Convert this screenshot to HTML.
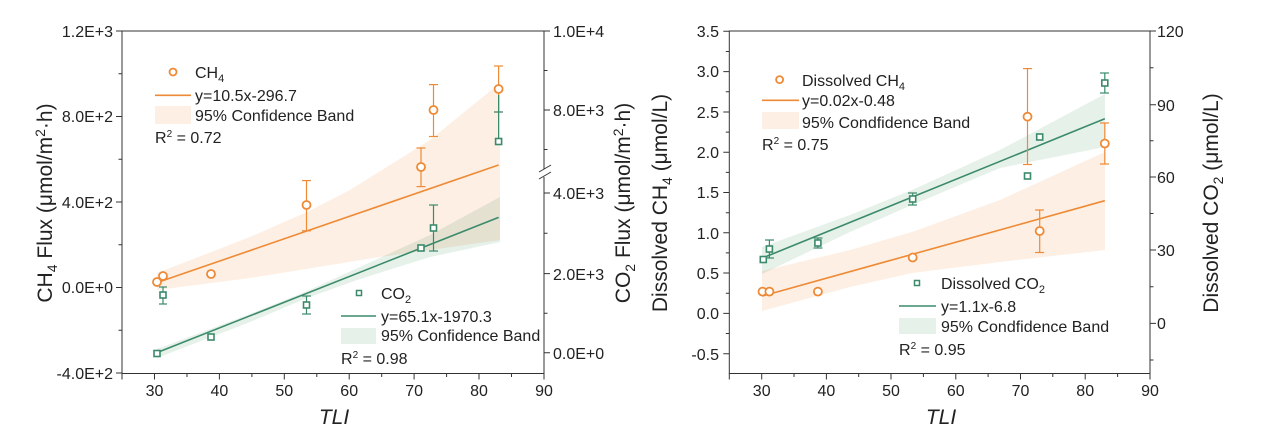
<!DOCTYPE html>
<html><head><meta charset="utf-8"><style>
html,body{margin:0;padding:0;background:#fff;width:1280px;height:441px;overflow:hidden}
svg{display:block}
text{font-family:"Liberation Sans",Arial,sans-serif;fill:#222}
.t{font-size:16px}
.ti{font-size:21px}
.ob{fill:#fdefe3}
.gb{fill:#e6f1ea;mix-blend-mode:multiply}
</style></head><body>
<svg width="1280" height="441" viewBox="0 0 1280 441" xmlns="http://www.w3.org/2000/svg">
<g>
<polygon class="ob" points="157,273 250,237 307,212 350,190 430,140 500,83 500,240 430,250 373,258 300,270 250,278 157,290"/>
<polygon class="gb" points="157,349 250,314 307,291 360,267 430,235 500,197 500,242 430,257 360,279 307,298 250,322 157,358"/>
<line x1="157" y1="282.6" x2="498.6" y2="165" stroke="#ee8a36" stroke-width="1.6"/>
<line x1="156" y1="353" x2="498.6" y2="217.4" stroke="#3b8a6b" stroke-width="1.6"/>
<g stroke="#ee8a36" stroke-width="1.2" fill="none">
<line x1="306.5" y1="180.6" x2="306.5" y2="230.8"/><line x1="302" y1="180.6" x2="311" y2="180.6"/><line x1="302" y1="230.8" x2="311" y2="230.8"/>
<line x1="421" y1="148" x2="421" y2="186.6"/><line x1="416.5" y1="148" x2="425.5" y2="148"/><line x1="416.5" y1="186.6" x2="425.5" y2="186.6"/>
<line x1="433.5" y1="84.6" x2="433.5" y2="136.5"/><line x1="429" y1="84.6" x2="438" y2="84.6"/><line x1="429" y1="136.5" x2="438" y2="136.5"/>
<line x1="498.6" y1="66" x2="498.6" y2="112"/><line x1="494" y1="66" x2="503" y2="66"/><line x1="494" y1="112" x2="503" y2="112"/>
</g>
<g stroke="#3b8a6b" stroke-width="1.2" fill="none">
<line x1="163" y1="287" x2="163" y2="304"/><line x1="159" y1="287" x2="167" y2="287"/><line x1="159" y1="304" x2="167" y2="304"/>
<line x1="306.5" y1="296" x2="306.5" y2="314"/><line x1="302" y1="296" x2="311" y2="296"/><line x1="302" y1="314" x2="311" y2="314"/>
<line x1="433.5" y1="205" x2="433.5" y2="251"/><line x1="429" y1="205" x2="438" y2="205"/><line x1="429" y1="251" x2="438" y2="251"/>
<line x1="498.6" y1="95" x2="498.6" y2="141"/><line x1="494" y1="112" x2="503" y2="112"/>
</g>
<g stroke="#ee8a36" stroke-width="1.8" fill="#fff">
<circle cx="157" cy="282" r="4"/><circle cx="163" cy="276" r="4"/><circle cx="211" cy="274" r="4"/>
<circle cx="306.5" cy="205" r="4"/><circle cx="421" cy="167" r="4"/><circle cx="433.5" cy="110" r="4"/><circle cx="498.6" cy="89" r="4"/>
</g>
<g stroke="#3b8a6b" stroke-width="1.6" fill="#fff">
<rect x="154" y="350.5" width="6" height="6"/><rect x="160" y="292" width="6" height="6"/><rect x="208" y="334" width="6" height="6"/>
<rect x="303.5" y="302" width="6" height="6"/><rect x="418" y="245" width="6" height="6"/><rect x="430.5" y="225" width="6" height="6"/><rect x="495.6" y="138.5" width="6" height="6"/>
</g>
<g stroke="#333" stroke-width="1" fill="none">
<rect x="122" y="31" width="422" height="342.5"/>
<path d="M122,373.5v6 M154.5,373.5v6 M219.4,373.5v6 M284.3,373.5v6 M349.2,373.5v6 M414.1,373.5v6 M479,373.5v6 M544,373.5v6
M187,373.5v3.5 M251.9,373.5v3.5 M316.8,373.5v3.5 M381.7,373.5v3.5 M446.6,373.5v3.5 M511.5,373.5v3.5"/>
<path d="M122,31h-6 M122,116.5h-6 M122,202h-6 M122,287.5h-6 M122,373h-6
M122,73.8h-3.5 M122,159.3h-3.5 M122,244.8h-3.5 M122,330.3h-3.5"/>
<path d="M544,31h6 M544,110h6 M544,193h6 M544,273.6h6 M544,352.8h6
M544,70.5h3.5 M544,149.5h3.5 M544,233.3h3.5 M544,313.2h3.5"/>
</g>
<rect x="539" y="169" width="12" height="8" fill="#fff"/>
<path d="M539,172 L551,165 M539,179 L551,172" stroke="#333" stroke-width="1"/>
<g class="t" text-anchor="middle">
<text x="154.5" y="396">30</text><text x="219.4" y="396">40</text><text x="284.3" y="396">50</text><text x="349.2" y="396">60</text><text x="414.1" y="396">70</text><text x="479" y="396">80</text><text x="544" y="396">90</text>
</g>
<g class="t" text-anchor="end">
<text x="113" y="37">1.2E+3</text><text x="113" y="122">8.0E+2</text><text x="113" y="208">4.0E+2</text><text x="113" y="293">0.0E+0</text><text x="113" y="379">-4.0E+2</text>
</g>
<g class="t">
<text x="553" y="37">1.0E+4</text><text x="553" y="116">8.0E+3</text><text x="553" y="199">4.0E+3</text><text x="553" y="280">2.0E+3</text><text x="553" y="359">0.0E+0</text>
</g>
<text class="ti" transform="translate(52,203) rotate(-90)" text-anchor="middle">CH<tspan font-size="14" dy="5">4</tspan><tspan dy="-5"> Flux (μmol/m</tspan><tspan font-size="14" dy="-7">2</tspan><tspan dy="7">·h)</tspan></text>
<text class="ti" transform="translate(630,203) rotate(-90)" text-anchor="middle">CO<tspan font-size="14" dy="5">2</tspan><tspan dy="-5"> Flux (μmol/m</tspan><tspan font-size="14" dy="-7">2</tspan><tspan dy="7">·h)</tspan></text>
<text class="ti" x="334" y="424" text-anchor="middle" font-style="italic">TLI</text>
<circle cx="173" cy="72" r="3.5" stroke="#ee8a36" stroke-width="1.8" fill="#fff"/>
<text class="t" x="195" y="78">CH<tspan font-size="11" dy="4">4</tspan></text>
<line x1="155" y1="95.3" x2="191" y2="95.3" stroke="#ee8a36" stroke-width="1.6"/>
<text class="t" x="195" y="101">y=10.5x-296.7</text>
<rect class="ob" x="155" y="106" width="36" height="18"/>
<text class="t" x="195" y="121">95% Confidence Band</text>
<text class="t" x="155" y="143">R<tspan font-size="10" dy="-6">2</tspan><tspan dy="6"> = 0.72</tspan></text>
<rect x="356.5" y="290.5" width="5" height="5" stroke="#3b8a6b" stroke-width="1.5" fill="#fff"/>
<text class="t" x="381" y="299">CO<tspan font-size="11" dy="4">2</tspan></text>
<line x1="341" y1="316" x2="376" y2="316" stroke="#3b8a6b" stroke-width="1.6"/>
<text class="t" x="381" y="322">y=65.1x-1970.3</text>
<rect x="341" y="328" width="35" height="16" fill="#e6f1ea"/>
<text class="t" x="381" y="341">95% Confidence Band</text>
<text class="t" x="341" y="364">R<tspan font-size="10" dy="-6">2</tspan><tspan dy="6"> = 0.98</tspan></text>
</g>

<g>
<polygon class="ob" points="762,271 850,250 912,232 1000,200 1105,152 1105,250 1000,262 912,273 850,287 762,311"/>
<polygon class="gb" points="762,247 850,215 912,190 1000,150 1105,94 1105,147 1000,168 912,205 850,232 762,274"/>
<line x1="762.5" y1="296" x2="1104.8" y2="200.7" stroke="#ee8a36" stroke-width="1.6"/>
<line x1="762.5" y1="258" x2="1104.8" y2="118.7" stroke="#3b8a6b" stroke-width="1.6"/>
<g stroke="#ee8a36" stroke-width="1.2" fill="none">
<line x1="1027.5" y1="68.6" x2="1027.5" y2="164.5"/><line x1="1023" y1="68.6" x2="1032" y2="68.6"/><line x1="1023" y1="164.5" x2="1032" y2="164.5"/>
<line x1="1039.7" y1="210" x2="1039.7" y2="252.5"/><line x1="1035" y1="210" x2="1044" y2="210"/><line x1="1035" y1="252.5" x2="1044" y2="252.5"/>
<line x1="1104.8" y1="123" x2="1104.8" y2="164"/><line x1="1100" y1="123" x2="1109" y2="123"/><line x1="1100" y1="164" x2="1109" y2="164"/>
</g>
<g stroke="#3b8a6b" stroke-width="1.2" fill="none">
<line x1="769.4" y1="240" x2="769.4" y2="258"/><line x1="765" y1="240" x2="774" y2="240"/><line x1="765" y1="258" x2="774" y2="258"/>
<line x1="817.9" y1="238" x2="817.9" y2="248"/><line x1="813.5" y1="238" x2="822.5" y2="238"/><line x1="813.5" y1="248" x2="822.5" y2="248"/>
<line x1="912.7" y1="193" x2="912.7" y2="205"/><line x1="908" y1="193" x2="917" y2="193"/><line x1="908" y1="205" x2="917" y2="205"/>
<line x1="1104.8" y1="73" x2="1104.8" y2="93"/><line x1="1100" y1="73" x2="1109" y2="73"/><line x1="1100" y1="93" x2="1109" y2="93"/>
</g>
<g stroke="#ee8a36" stroke-width="1.8" fill="#fff">
<circle cx="762.5" cy="291.6" r="4"/><circle cx="769.4" cy="291.6" r="4"/><circle cx="817.9" cy="291.6" r="4"/>
<circle cx="912.7" cy="257.5" r="4"/><circle cx="1027.5" cy="116.7" r="4"/><circle cx="1039.7" cy="231" r="4"/><circle cx="1104.8" cy="143.5" r="4"/>
</g>
<g stroke="#3b8a6b" stroke-width="1.6" fill="#fff">
<rect x="760.3" y="256.5" width="6" height="6"/><rect x="766.4" y="246" width="6" height="6"/><rect x="814.9" y="240" width="6" height="6"/>
<rect x="909.7" y="196" width="6" height="6"/><rect x="1024.5" y="173" width="6" height="6"/><rect x="1036.7" y="134" width="6" height="6"/><rect x="1101.8" y="80" width="6" height="6"/>
</g>
<g stroke="#333" stroke-width="1" fill="none">
<rect x="729.3" y="31" width="420.7" height="342.5"/>
<path d="M729.3,373.5v6 M761.7,373.5v6 M826.4,373.5v6 M891,373.5v6 M955.8,373.5v6 M1020.5,373.5v6 M1085.2,373.5v6 M1150,373.5v6
M794,373.5v3.5 M858.7,373.5v3.5 M923.4,373.5v3.5 M988.1,373.5v3.5 M1052.8,373.5v3.5 M1117.6,373.5v3.5"/>
<path d="M729.3,31.3h-6 M729.3,71.6h-6 M729.3,112h-6 M729.3,152.2h-6 M729.3,192.5h-6 M729.3,232.8h-6 M729.3,273h-6 M729.3,313.4h-6 M729.3,353.7h-6
M729.3,51.5h-3.5 M729.3,91.8h-3.5 M729.3,132.1h-3.5 M729.3,172.4h-3.5 M729.3,212.7h-3.5 M729.3,252.9h-3.5 M729.3,293.2h-3.5 M729.3,333.5h-3.5"/>
<path d="M1150,31h6 M1150,104.7h6 M1150,177h6 M1150,250h6 M1150,323.4h6
M1150,67.8h3.5 M1150,140.8h3.5 M1150,213.5h3.5 M1150,286.7h3.5 M1150,360h3.5"/>
</g>
<g class="t" text-anchor="middle">
<text x="761.7" y="396">30</text><text x="826.4" y="396">40</text><text x="891" y="396">50</text><text x="955.8" y="396">60</text><text x="1020.5" y="396">70</text><text x="1085.2" y="396">80</text><text x="1150" y="396">90</text>
</g>
<g class="t" text-anchor="end">
<text x="719" y="37">3.5</text><text x="719" y="77">3.0</text><text x="719" y="118">2.5</text><text x="719" y="158">2.0</text><text x="719" y="198">1.5</text><text x="719" y="239">1.0</text><text x="719" y="279">0.5</text><text x="719" y="319">0.0</text><text x="719" y="360">-0.5</text>
</g>
<g class="t">
<text x="1157" y="37">120</text><text x="1157" y="111">90</text><text x="1157" y="183">60</text><text x="1157" y="256">30</text><text x="1157" y="329">0</text>
</g>
<text class="ti" transform="translate(667,203) rotate(-90)" text-anchor="middle">Dissolved CH<tspan font-size="14" dy="5">4</tspan><tspan dy="-5"> (μmol/L)</tspan></text>
<text class="ti" transform="translate(1218,203) rotate(-90)" text-anchor="middle">Dissolved CO<tspan font-size="14" dy="5">2</tspan><tspan dy="-5"> (μmol/L)</tspan></text>
<text class="ti" x="941" y="424" text-anchor="middle" font-style="italic">TLI</text>
<circle cx="779.6" cy="79.6" r="3.5" stroke="#ee8a36" stroke-width="1.8" fill="#fff"/>
<text class="t" x="802" y="86">Dissolved CH<tspan font-size="11" dy="4">4</tspan></text>
<line x1="762" y1="100.3" x2="799" y2="100.3" stroke="#ee8a36" stroke-width="1.6"/>
<text class="t" x="802" y="106">y=0.02x-0.48</text>
<rect class="ob" x="762" y="112" width="37" height="17"/>
<text class="t" x="802" y="128">95% Condfidence Band</text>
<text class="t" x="762" y="150">R<tspan font-size="10" dy="-6">2</tspan><tspan dy="6"> = 0.75</tspan></text>
<rect x="914.5" y="280.5" width="5" height="5" stroke="#3b8a6b" stroke-width="1.5" fill="#fff"/>
<text class="t" x="941" y="289">Dissolved CO<tspan font-size="11" dy="4">2</tspan></text>
<line x1="899" y1="306" x2="936" y2="306" stroke="#3b8a6b" stroke-width="1.6"/>
<text class="t" x="941" y="312">y=1.1x-6.8</text>
<rect x="899" y="318" width="37" height="16" fill="#e6f1ea"/>
<text class="t" x="941" y="332">95% Condfidence Band</text>
<text class="t" x="899" y="355">R<tspan font-size="10" dy="-6">2</tspan><tspan dy="6"> = 0.95</tspan></text>
</g>
</svg>
</body></html>
